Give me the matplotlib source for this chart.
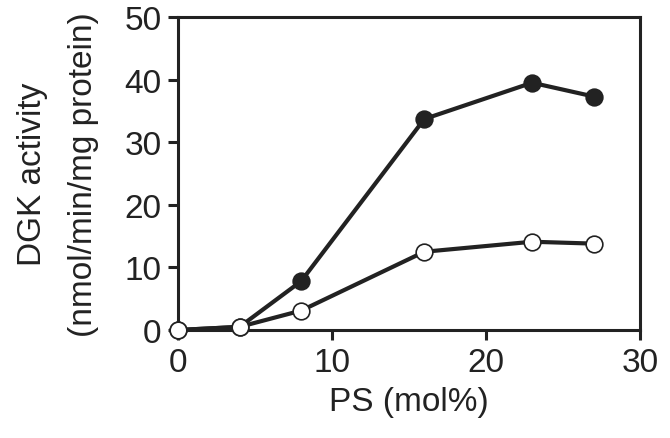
import matplotlib.pyplot as plt

plt.rcParams['font.family'] = ['Liberation Sans', 'DejaVu Sans']

# PS concentration (mol%)
ps = [0, 4, 8, 16, 23, 27]
# DGK activity (nmol/min/mg protein)
filled_vals = [0, 0.5, 7.8, 33.7, 39.5, 37.3]
open_vals = [0, 0.5, 3.1, 12.5, 14.1, 13.8]

ink = '#222222'

fig = plt.figure(figsize=(6.7, 4.39), dpi=100)
ax = fig.add_axes([0.2657, 0.246, 0.955 - 0.2657, 0.959 - 0.246])

ax.plot(ps, filled_vals, color=ink, lw=3, marker='o', ms=12,
        mfc=ink, mec=ink, mew=1.2, clip_on=False, zorder=3)
ax.plot(ps, open_vals, color=ink, lw=3, marker='o', ms=12,
        mfc='white', mec=ink, mew=1.2, clip_on=False, zorder=4)

ax.set_xlim(0, 30)
ax.set_ylim(0, 50)
ax.set_xticks([0, 10, 20, 30])
ax.set_yticks([0, 10, 20, 30, 40, 50])

for s in ax.spines.values():
    s.set_linewidth(2.2)
    s.set_color(ink)

ax.tick_params(direction='out', length=7, width=2.2, color=ink,
               labelsize=24, labelcolor=ink, pad=5)

ax.set_xlabel('PS (mol%)', fontsize=24, color=ink, labelpad=6)
ax.set_ylabel('DGK activity\n(nmol/min/mg protein)', fontsize=24,
              color=ink, labelpad=18, linespacing=1.85)

fig.savefig('out.png', dpi=100)
